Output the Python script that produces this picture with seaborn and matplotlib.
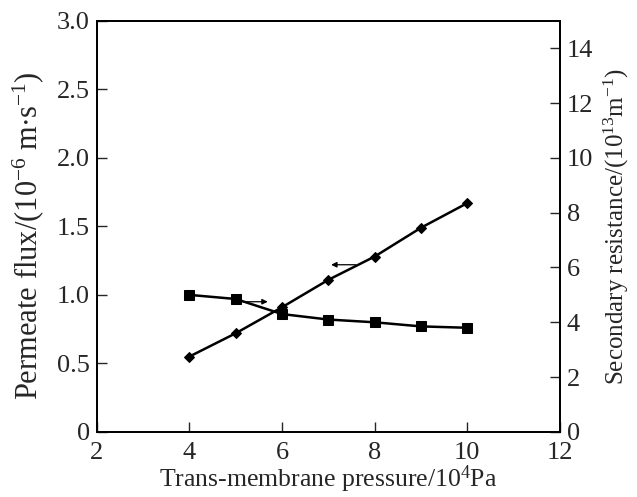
import matplotlib
matplotlib.use("Agg")
import matplotlib.pyplot as plt
import seaborn as sns
import pandas as pd
from matplotlib.ticker import FuncFormatter

pressure = [4, 5, 6, 7, 8, 9, 10]
flux = [0.55, 0.72, 0.91, 1.11, 1.28, 1.49, 1.67]
resistance = [5.0, 4.85, 4.3, 4.1, 4.0, 3.85, 3.8]

x_ticks = [2, 4, 6, 8, 10, 12]
left_ticks = [0, 0.5, 1.0, 1.5, 2.0, 2.5, 3.0]
right_ticks = [0, 2, 4, 6, 8, 10, 12, 14]

sns.set_style("ticks")
plt.rcParams["font.family"] = ["Liberation Serif", "DejaVu Serif"]
plt.rcParams["mathtext.fontset"] = "custom"
plt.rcParams["mathtext.rm"] = "Liberation Serif"
plt.rcParams["mathtext.it"] = "Liberation Serif"
plt.rcParams["mathtext.bf"] = "Liberation Serif"
plt.rcParams["mathtext.default"] = "rm"

df1 = pd.DataFrame({"p": pressure, "v": flux})
df2 = pd.DataFrame({"p": pressure, "v": resistance})

fig = plt.figure(figsize=(6.37, 4.97), dpi=100)
ax = fig.add_axes([0.152, 0.131, 0.727, 0.827])
ax2 = ax.twinx()

sns.lineplot(data=df1, x="p", y="v", ax=ax, color="black", linewidth=1.8,
             marker="D", markersize=5, markeredgecolor="black")
sns.lineplot(data=df2, x="p", y="v", ax=ax2, color="black", linewidth=1.8,
             marker="s", markersize=7, markeredgecolor="black")

ax.set_xlim(2, 12)
ax.set_ylim(0, 3.0)
ax2.set_ylim(0, 15)
ax.set_xticks(x_ticks)
ax.set_yticks(left_ticks)
ax2.set_yticks(right_ticks)
ax.yaxis.set_major_formatter(FuncFormatter(lambda v, p: "0" if v == 0 else f"{v:.1f}"))

fs = 19
ax.tick_params(axis="y", direction="in", length=7, width=1, labelsize=fs, pad=5, right=False)
ax.tick_params(axis="x", direction="in", length=7, width=1, labelsize=fs, pad=7, top=False)
ax2.tick_params(axis="y", direction="in", length=7, width=1, labelsize=fs, pad=5)
for a in (ax, ax2):
    for s in a.spines.values():
        s.set_linewidth(1.3)
        s.set_color("black")

ax.set_xlabel(r"Trans-membrane pressure/$10^{4}$Pa", fontsize=18.5, labelpad=0)
ax.set_ylabel(r"Permeate flux/($10^{-6}$ m$\bullet$s$^{-1}$)", fontsize=22)
ax.yaxis.set_label_coords(-0.11, 0.477)
ax2.set_ylabel(r"Secondary resistance/($10^{13}$m$^{-1}$)", fontsize=18, labelpad=6)

# direction arrows indicating the axis each curve refers to
ax.annotate("", xy=(7.0, 1.22), xytext=(7.65, 1.22),
            arrowprops=dict(arrowstyle="-|>", color="black", lw=0.9, mutation_scale=8))
ax.annotate("", xy=(5.75, 0.95), xytext=(5.1, 0.95),
            arrowprops=dict(arrowstyle="-|>", color="black", lw=0.9, mutation_scale=8))

fig.savefig("out.png", dpi=100)
